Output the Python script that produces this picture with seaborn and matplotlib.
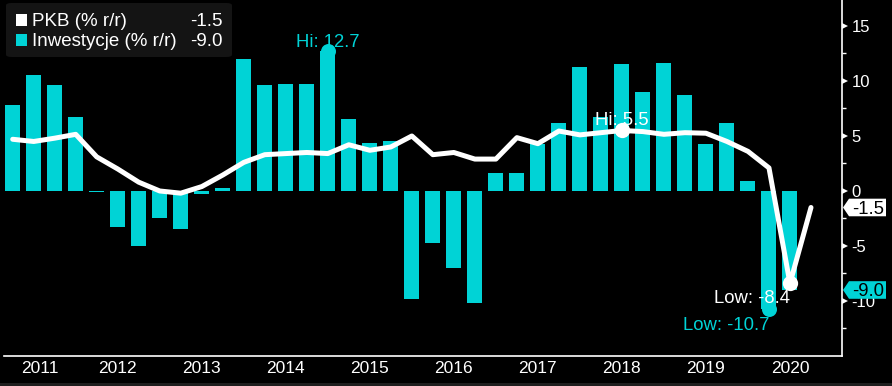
import numpy as np
import matplotlib
matplotlib.use("Agg")
import matplotlib.pyplot as plt
import seaborn as sns
from matplotlib.patches import Polygon, FancyBboxPatch, Rectangle
from matplotlib.transforms import blended_transform_factory

# quarterly data, 2011Q1 .. 2020Q3
quarters = [f"{y}Q{q}" for y in range(2011, 2021) for q in range(1, 5)][:39]
gdp = [4.7, 4.5, 4.8, 5.15, 3.1, 2.0, 0.8, 0.0, -0.2, 0.4,
       1.45, 2.6, 3.3, 3.4, 3.5, 3.4, 4.2, 3.7, 4.0, 5.0,
       3.3, 3.5, 2.9, 2.9, 4.85, 4.3, 5.45, 5.1, 5.3, 5.5,
       5.4, 5.15, 5.3, 5.25, 4.5, 3.6, 2.1, -8.4, -1.5]
# investment bars visible from 2011Q2
inv_quarters = quarters[1:]
inv = [7.8, 10.5, 9.6, 6.7, -0.1, -3.3, -5.0, -2.5, -3.5, -0.3,
       0.3, 12.0, 9.6, 9.7, 9.7, 12.7, 6.5, 4.4, 4.5, -9.8,
       -4.7, -7.0, -10.2, 1.6, 1.6, 4.3, 6.2, 11.3, 6.7, 11.5,
       9.0, 11.6, 8.7, 4.3, 6.2, 0.9, -10.7, -9.0]
years = list(range(2011, 2021))
gdp_label = "PKB (% r/r)"
inv_label = "Inwestycje (% r/r)"

CYAN = "#00D3D6"
W, H = 892, 386
AX_L, AX_R, AX_B = 4, 842, 356


def q_parts(label):
    return int(label[:4]), int(label[5])


def q_start(label):
    # bars sit at the start of the quarter
    y, q = q_parts(label)
    return (y - 2011) * 4 + q - 2


def q_end(label):
    # line points sit at the end of the quarter
    y, q = q_parts(label)
    return (y - 2011) * 4 + q - 1


sns.set_theme(style="dark", rc={"axes.grid": False})
plt.rcParams['font.family'] = ['Liberation Sans', 'DejaVu Sans']
plt.rcParams['axes.unicode_minus'] = False

fig = plt.figure(figsize=(W / 100, H / 100), dpi=100, facecolor="black")
ax = fig.add_axes([AX_L / W, (H - AX_B) / H, (AX_R - AX_L) / W, AX_B / H])
ax.set_facecolor("black")

bar_x = [q_start(q) for q in inv_quarters]
line_x = [q_end(q) for q in quarters]

sns.barplot(x=bar_x, y=inv, native_scale=True, color=CYAN, saturation=1,
            width=0.714, errorbar=None, linewidth=0, ax=ax, zorder=2)
sns.lineplot(x=line_x, y=gdp, color="white", linewidth=3.6, sort=False,
             ax=ax, zorder=4)
ax.lines[-1].set_solid_joinstyle("round")

xmin, xmax = -0.414, 39.476
ax.set_xlim(xmin, xmax)
ax.set_ylim(-15, 17.36)

# hi / low markers
i_hi, i_lo = int(np.argmax(inv)), int(np.argmin(inv))
g_hi, g_lo = int(np.argmax(gdp)), int(np.argmin(gdp))
ax.plot([bar_x[i_hi], bar_x[i_lo]], [inv[i_hi], inv[i_lo]], "o", color=CYAN,
        markersize=10.8, markeredgewidth=0, zorder=3)
ax.plot([line_x[g_hi], line_x[g_lo]], [gdp[g_hi], gdp[g_lo]], "o", color="white",
        markersize=11, markeredgewidth=0, zorder=5)

ann = dict(textcoords="offset pixels", fontsize=13.3, va="baseline", zorder=6)
ax.annotate(f"Hi: {inv[i_hi]:.1f}", (bar_x[i_hi], inv[i_hi]), xytext=(0, 4),
            ha="center", color=CYAN, **ann)
ax.annotate(f"Low: {inv[i_lo]:.1f}", (bar_x[i_lo], inv[i_lo]), xytext=(0, -21),
            ha="right", color=CYAN, **ann)
ax.annotate(f"Hi: {gdp[g_hi]:.1f}", (line_x[g_hi], gdp[g_hi]), xytext=(0, 5),
            ha="center", color="white", **ann)
ax.annotate(f"Low: {gdp[g_lo]:.1f}", (line_x[g_lo], gdp[g_lo]), xytext=(0, -20),
            ha="right", color="white", **ann)

# x axis: year separators + centred year labels
bounds = [(y - 2011) * 4 + 3 for y in years]
centers = [(max((y - 2011) * 4 - 1, xmin) + (y - 2011) * 4 + 3) / 2 for y in years]
ax.set_xticks(bounds)
ax.set_xticks(centers, minor=True)
ax.set_xticklabels([str(y) for y in years], minor=True)
ax.tick_params(axis="x", which="major", length=15.8, width=1.2, color="#a0a0a0",
               labelbottom=False, direction="out")
ax.tick_params(axis="x", which="minor", length=0, pad=3.5, labelsize=12.5,
               labelcolor="white")

# y axis on the right
ax.yaxis.tick_right()
ax.set_yticks(range(-10, 16, 5))
ax.set_yticks(np.arange(-12.5, 15, 5), minor=True)
ax.tick_params(axis="y", which="major", length=0, pad=7, labelsize=12,
               labelcolor="white")
ax.tick_params(axis="y", which="minor", length=3, width=1, color="white")
ax.set_xlabel("")
ax.set_ylabel("")

for s in ["left", "top"]:
    ax.spines[s].set_visible(False)
for s in ["right", "bottom"]:
    ax.spines[s].set_color("white")
    ax.spines[s].set_linewidth(1.2)

bt = blended_transform_factory(ax.transAxes, ax.transData)
ax.plot([1 + 3 / 838] * 6, list(range(-10, 16, 5)), ">", color="white",
        markersize=4.5, markeredgewidth=0, transform=bt, clip_on=False, zorder=5)


def px(x):
    return (x - AX_L) / (AX_R - AX_L)


def tag(value, face):
    h = 0.8
    pts = [(px(843), value), (px(849), value + h), (px(886), value + h),
           (px(886), value - h), (px(849), value - h)]
    ax.add_patch(Polygon(pts, closed=True, facecolor=face, edgecolor="none",
                         transform=bt, clip_on=False, zorder=7))
    ax.text(px(884), value, f"{value:.1f}", transform=bt, ha="right",
            va="center_baseline", fontsize=13.3, color="black", zorder=8,
            clip_on=False)


tag(gdp[-1], "white")
tag(inv[-1], CYAN)

# legend box (top-left)
fig.patches.append(FancyBboxPatch((6 / W, 1 - 57 / H), 226 / W, 54 / H,
                                  boxstyle="round,pad=0,rounding_size=0.006",
                                  facecolor="#141414", edgecolor="none",
                                  transform=fig.transFigure, figure=fig))
rows = [(gdp_label, gdp[-1], "white", 26.5), (inv_label, inv[-1], CYAN, 46.5)]
for label, val, col, base in rows:
    fig.patches.append(Rectangle((16 / W, 1 - (base - 0.5) / H), 11 / W, 12 / H,
                                 facecolor=col, edgecolor="none",
                                 transform=fig.transFigure, figure=fig))
    fig.text(32 / W, 1 - base / H, label, color="white", fontsize=13.5,
             va="baseline", ha="left")
    fig.text(223 / W, 1 - base / H, f"{val:.1f}", color="white", fontsize=13.5,
             va="baseline", ha="right")

# thin dark strip at the bottom edge
fig.patches.append(Rectangle((0, 0), 1, 3 / H, facecolor="#1e1e1e",
                             edgecolor="none", transform=fig.transFigure, figure=fig))

fig.savefig("out.png", dpi=100, facecolor="black")
